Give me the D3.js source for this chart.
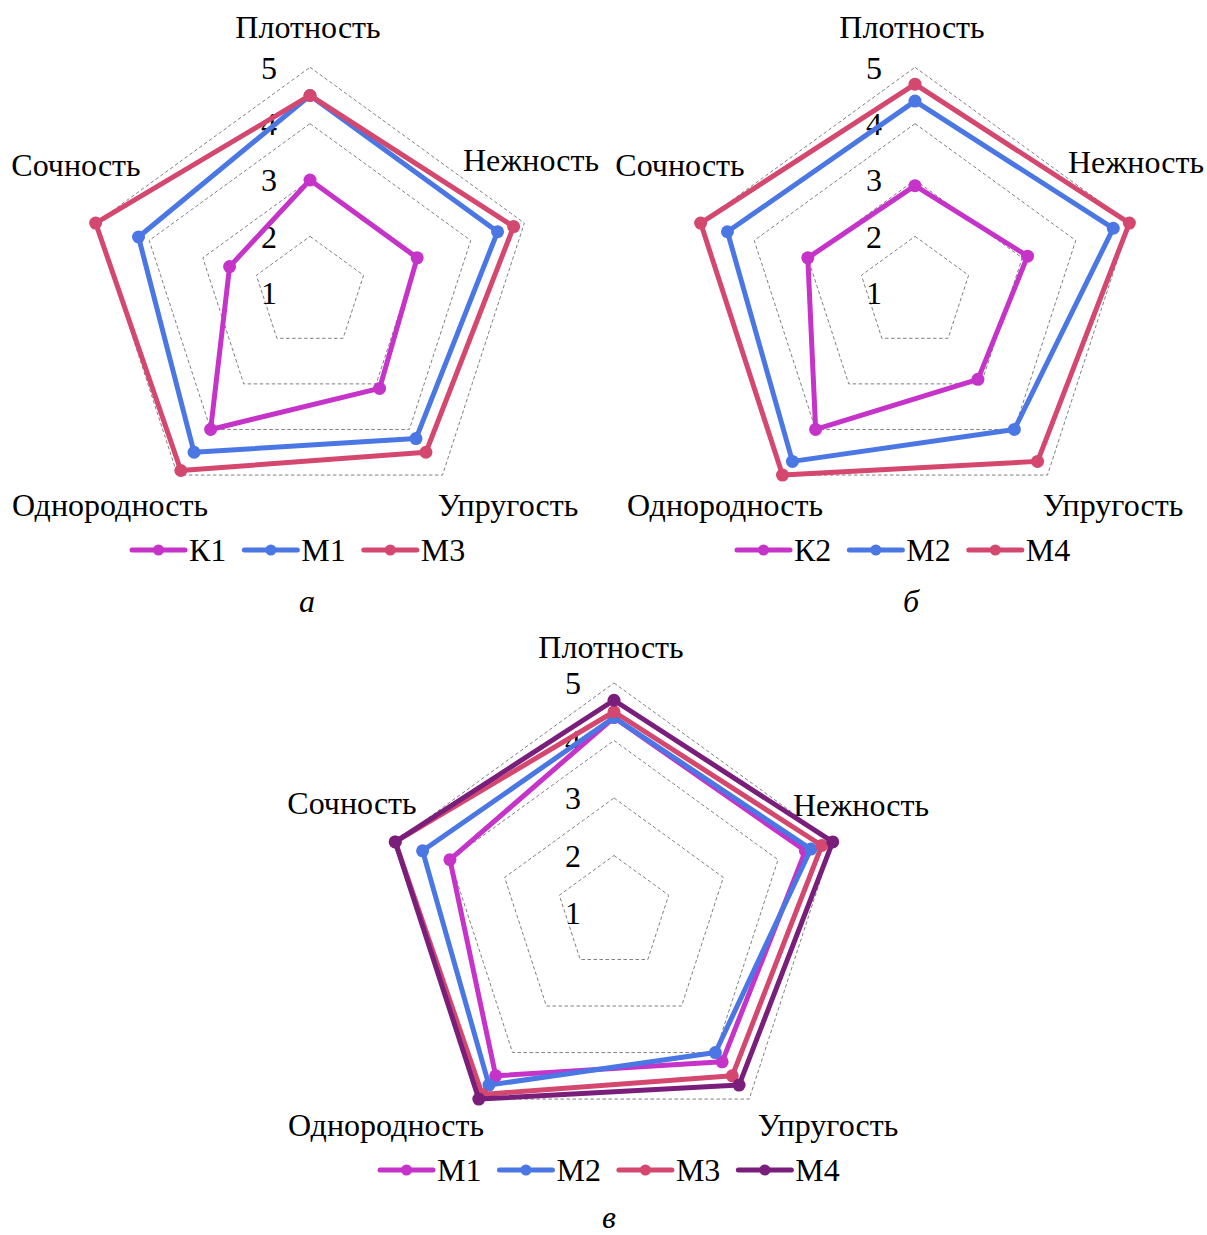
<!DOCTYPE html>
<html>
<head>
<meta charset="utf-8">
<script src="https://cdn.jsdelivr.net/npm/d3@7"></script>
<style>
  html, body { margin: 0; padding: 0; background: #fff; }
  svg { display: block; }
  text { font-family: "Liberation Serif", "Times New Roman", serif; fill: #000; }
</style>
</head>
<body>
<svg id="chart" width="1207" height="1235"></svg>
<script>
// Sensory profile axes (clockwise from the top)
const axes = ["Плотность", "Нежность", "Упругость", "Однородность", "Сочность"];
const ticks = [1, 2, 3, 4, 5];

// Panel а
const seriesA = ["К1", "М1", "М3"];
const valuesK1 = [3.0, 3.0, 3.1, 4.0, 2.5];
const valuesM1a = [4.5, 4.5, 4.2, 4.5, 4.2];
const valuesM3a = [4.5, 4.8, 4.5, 4.9, 5.0];

// Panel б
const seriesB = ["К2", "М2", "М4"];
const valuesK2 = [2.9, 3.1, 2.9, 4.0, 3.0];
const valuesM2b = [4.4, 4.7, 4.0, 4.7, 4.5];
const valuesM4b = [4.7, 5.0, 4.7, 5.0, 5.0];

// Panel в
const seriesC = ["М1", "М2", "М3", "М4"];
const valuesM1c = [4.4, 4.5, 4.2, 4.5, 4.0];
const valuesM2c = [4.4, 4.6, 4.0, 4.7, 4.5];
const valuesM3c = [4.5, 4.8, 4.5, 4.9, 5.0];
const valuesM4c = [4.7, 5.0, 4.7, 5.0, 5.0];

const captions = ["а", "б", "в"];

const colors = {
  magenta: "#C633C9",
  blue: "#4A77E3",
  red: "#D4486F",
  purple: "#7A1E7B"
};

const FONT = 32;

const panels = [
  {
    cx: 310, cy: 292.7, R: 225.4,
    names: seriesA, data: [valuesK1, valuesM1a, valuesM3a],
    colors: [colors.magenta, colors.blue, colors.red],
    labelOffsets: [[-2, -266], [221, -133], [198, 212], [-200, 212], [-234, -128]],
    legendX: 132, legendY: 550, caption: captions[0], captionX: 307, captionY: 612
  },
  {
    cx: 915, cy: 292.7, R: 225.4,
    names: seriesB, data: [valuesK2, valuesM2b, valuesM4b],
    colors: [colors.magenta, colors.blue, colors.red],
    labelOffsets: [[-3, -266], [221, -131], [198, 212], [-190, 212], [-235, -128]],
    legendX: 737, legendY: 550, caption: captions[1], captionX: 911, captionY: 612
  },
  {
    cx: 614, cy: 913, R: 230,
    names: seriesC, data: [valuesM1c, valuesM2c, valuesM3c, valuesM4c],
    colors: [colors.magenta, colors.blue, colors.red, colors.purple],
    labelOffsets: [[-3, -266], [247, -108], [214, 212], [-228, 212], [-262, -110]],
    legendX: 380, legendY: 1170, caption: captions[2], captionX: 609, captionY: 1228
  }
];

const svg = d3.select("#chart");

const angle = d3.scaleLinear().domain([0, axes.length]).range([0, 2 * Math.PI]);

panels.forEach(p => {
  const g = svg.append("g").attr("transform", `translate(${p.cx},${p.cy})`);
  const r = d3.scaleLinear().domain([1, 5]).range([0, p.R]);

  const pt = (i, v) => {
    const a = angle(i);
    return [Math.sin(a) * r(v), -Math.cos(a) * r(v)];
  };

  // dashed pentagon grid
  const gridLine = d3.line().curve(d3.curveLinearClosed);
  g.selectAll("path.grid")
    .data(ticks.filter(t => t > 1))
    .join("path")
    .attr("class", "grid")
    .attr("d", t => gridLine(axes.map((_, i) => pt(i, t))))
    .attr("fill", "none")
    .attr("stroke", "#7f7f7f")
    .attr("stroke-width", 1)
    .attr("stroke-dasharray", "3.5,2.5");

  // radial tick labels
  g.selectAll("text.tick")
    .data(ticks)
    .join("text")
    .attr("class", "tick")
    .attr("x", -33)
    .attr("y", t => -r(t))
    .attr("dy", "0.35em")
    .attr("text-anchor", "end")
    .attr("font-size", FONT)
    .text(t => t);

  // axis titles
  g.selectAll("text.axis")
    .data(axes)
    .join("text")
    .attr("class", "axis")
    .attr("x", (d, i) => p.labelOffsets[i][0])
    .attr("y", (d, i) => p.labelOffsets[i][1])
    .attr("dy", "0.35em")
    .attr("text-anchor", "middle")
    .attr("font-size", FONT)
    .text(d => d);

  // series polygons with markers
  const seriesLine = d3.line().curve(d3.curveLinearClosed);
  p.data.forEach((vals, k) => {
    const pts = vals.map((v, i) => pt(i, v));
    g.append("path")
      .attr("d", seriesLine(pts))
      .attr("fill", "none")
      .attr("stroke", p.colors[k])
      .attr("stroke-width", 5)
      .attr("stroke-linejoin", "round");
    g.selectAll(null)
      .data(pts)
      .join("circle")
      .attr("cx", d => d[0])
      .attr("cy", d => d[1])
      .attr("r", 6.5)
      .attr("fill", p.colors[k]);
  });

  // legend
  const leg = svg.append("g").attr("transform", `translate(${p.legendX},${p.legendY})`);
  let x = 0;
  p.names.forEach((name, k) => {
    const item = leg.append("g").attr("transform", `translate(${x},0)`);
    item.append("line")
      .attr("x1", 0).attr("x2", 53).attr("y1", 0).attr("y2", 0)
      .attr("stroke", p.colors[k]).attr("stroke-width", 5).attr("stroke-linecap", "round");
    item.append("circle").attr("cx", 26.5).attr("cy", 0).attr("r", 5.5).attr("fill", p.colors[k]);
    const t = item.append("text")
      .attr("x", 57).attr("y", 0).attr("dy", "0.35em")
      .attr("font-size", FONT)
      .text(name);
    x += 57 + t.node().getComputedTextLength() + 18;
  });

  // caption (alphabetic baseline)
  svg.append("text")
    .attr("x", p.captionX).attr("y", p.captionY)
    .attr("text-anchor", "middle")
    .attr("font-size", FONT)
    .attr("font-style", "italic")
    .text(p.caption);
});
</script>
</body>
</html>
